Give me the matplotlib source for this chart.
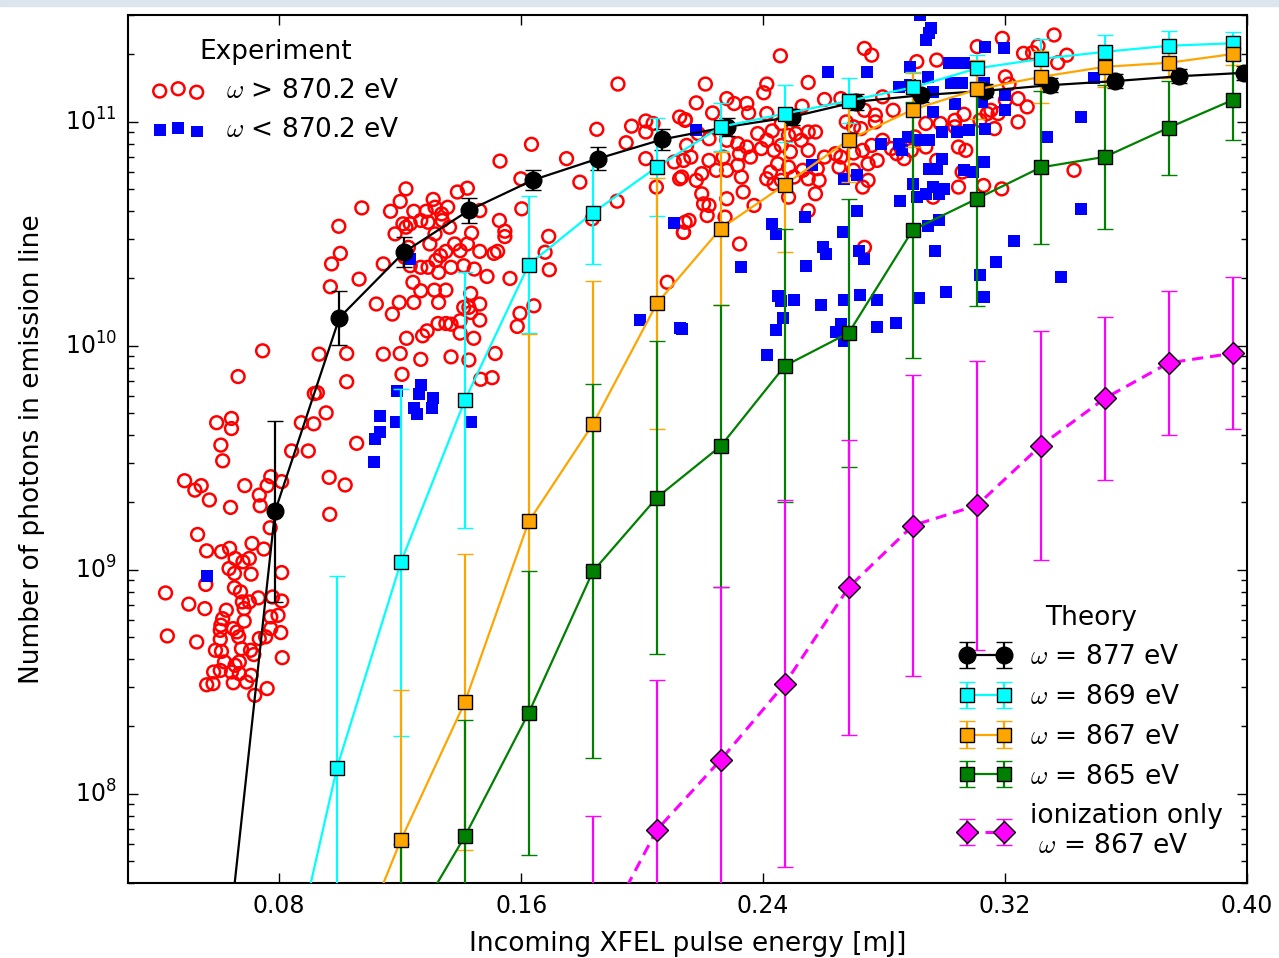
import matplotlib
matplotlib.use('Agg')
import matplotlib.pyplot as plt
import numpy as np
from matplotlib.patches import Rectangle

plt.style.use('classic')
plt.rcParams['font.family'] = ['DejaVu Sans']
plt.rcParams['mathtext.fontset'] = 'cm'

# ---- experiment: pulse energy [mJ], log10(photons) ----
hi_x = [0.0607, 0.0613, 0.0487, 0.0521, 0.0542, 0.0569, 0.0639, 0.0686, 0.0734, 0.0760,
        0.0772, 0.0808, 0.0737, 0.0530, 0.0560, 0.0609, 0.0636, 0.0654, 0.0680, 0.0701,
        0.0710, 0.0749, 0.0770, 0.0707, 0.0634, 0.0652, 0.0808, 0.0424, 0.0501, 0.0554,
        0.0557, 0.0652, 0.0672, 0.0678, 0.0684, 0.0701, 0.0731, 0.0778, 0.0808, 0.0625,
        0.0613, 0.0607, 0.0605, 0.0648, 0.0684, 0.0660, 0.0772, 0.0796, 0.0430, 0.0527,
        0.0605, 0.0666, 0.0734, 0.0755, 0.0772, 0.0805, 0.0589, 0.0609, 0.0675, 0.0705,
        0.0716, 0.0810, 0.0619, 0.0654, 0.0668, 0.0583, 0.0605, 0.0642, 0.0668, 0.0707,
        0.0560, 0.0581, 0.0648, 0.0692, 0.0719, 0.0760, 0.0841, 0.0896, 0.0965, 0.1018,
        0.0967, 0.1056,
        0.1920, 0.1850, 0.1965, 0.2012, 0.2036, 0.2012, 0.1947, 0.2124, 0.2142, 0.1634,
        0.1530, 0.1750, 0.1794, 0.2012, 0.2047, 0.2106, 0.2124, 0.1917, 0.2142, 0.2136,
        0.1599, 0.1602, 0.1691, 0.1679, 0.1693, 0.1642, 0.1596, 0.1587, 0.1835, 0.2083,
        0.1219, 0.1200, 0.1168, 0.1073, 0.0997, 0.1002, 0.0973, 0.0969, 0.1064, 0.1183,
        0.1209, 0.1233, 0.1245, 0.1286, 0.1309, 0.1315, 0.1337, 0.1357, 0.1389, 0.1422,
        0.1463, 0.1436, 0.1528, 0.1546, 0.1546, 0.1510, 0.1522, 0.1463, 0.1422, 0.1398,
        0.1380, 0.1351, 0.1333, 0.1318, 0.1298, 0.1315, 0.1363, 0.1339, 0.1292, 0.1268,
        0.1219, 0.1227, 0.1215, 0.1233, 0.1268, 0.1292, 0.1327, 0.1368, 0.1410, 0.1445,
        0.1487, 0.1563, 0.1242, 0.1268, 0.1313, 0.1351, 0.1433, 0.1427, 0.1463, 0.1433,
        0.1410, 0.1463, 0.1398, 0.1327, 0.1245, 0.1197, 0.1121, 0.1174, 0.1325, 0.1351,
        0.1368, 0.1398, 0.1443, 0.1221, 0.1274, 0.1289, 0.0932, 0.1023, 0.1144, 0.1200,
        0.1268, 0.1368, 0.1427, 0.1514, 0.1206, 0.1023, 0.1466, 0.1504, 0.0745, 0.0664,
        0.0916, 0.0926, 0.0955, 0.0873, 0.0914, 0.0593, 0.0642, 0.0642, 0.1144,
        0.2457, 0.2735, 0.2759, 0.2209, 0.2412, 0.2402, 0.2549, 0.3191, 0.3108, 0.3261,
        0.3291, 0.3362, 0.3404, 0.3374, 0.3309, 0.2974, 0.2908, 0.2280, 0.2304, 0.2346,
        0.2179, 0.2233, 0.2143, 0.2352, 0.2412, 0.2529, 0.2603, 0.2657, 0.2795, 0.2830,
        0.2735, 0.2771, 0.2460, 0.2430, 0.2382, 0.2412, 0.2484, 0.2508, 0.2549, 0.2573,
        0.2526, 0.2394, 0.2346, 0.2316, 0.2280, 0.2221, 0.2185, 0.2147, 0.2137, 0.2161,
        0.2221, 0.2268, 0.2322, 0.2358, 0.2436, 0.2460, 0.2490, 0.2549, 0.2603, 0.2639,
        0.2699, 0.2729, 0.2759, 0.2795, 0.2824, 0.2854, 0.2902, 0.2938, 0.2986, 0.3046,
        0.3070, 0.3034, 0.3165, 0.3177, 0.3153, 0.3201, 0.3243, 0.3243, 0.3273, 0.3213,
        0.3201, 0.3141, 0.3117, 0.3064, 0.3034, 0.2771, 0.2723, 0.2699, 0.2675, 0.2657,
        0.2651, 0.2699, 0.2747, 0.2777, 0.2729, 0.2747, 0.2579, 0.2585, 0.2549, 0.2531,
        0.2484, 0.2448, 0.2424, 0.2412, 0.2436, 0.2460, 0.2502, 0.2316, 0.2328, 0.2280,
        0.2245, 0.2197, 0.2179, 0.2131, 0.2197, 0.2221, 0.2280, 0.2334, 0.2370, 0.2484,
        0.2549, 0.2573, 0.2842, 0.2866, 0.2890, 0.2938, 0.2974, 0.3046, 0.3129, 0.3189,
        0.3428, 0.2735, 0.2322, 0.2274, 0.2155, 0.2137, 0.2203, 0.2215, 0.2962, 0.3058]
hi_log = [9.557, 9.487, 9.398, 9.356, 9.376, 9.312, 9.279, 9.376, 9.334, 9.376,
          9.416, 9.394, 9.286, 9.158, 9.085, 9.081, 9.096, 9.051, 9.036, 9.051,
          9.118, 9.093, 9.188, 8.981, 9.006, 8.984, 8.988, 8.897, 8.847, 8.827,
          8.935, 8.920, 8.902, 8.857, 8.827, 8.857, 8.875, 8.879, 8.861, 8.820,
          8.782, 8.753, 8.730, 8.738, 8.771, 8.723, 8.790, 8.797, 8.705, 8.678,
          8.690, 8.701, 8.693, 8.701, 8.738, 8.720, 8.641, 8.636, 8.648, 8.641,
          8.622, 8.608, 8.589, 8.574, 8.589, 8.544, 8.551, 8.544, 8.537, 8.529,
          8.487, 8.492, 8.496, 8.499, 8.440, 8.470, 9.531, 9.531, 9.413, 9.379,
          9.248, 9.565,
          11.169, 10.967, 10.981, 11.004, 10.993, 10.955, 10.907, 11.022, 11.007, 10.900,
          10.825, 10.836, 10.731, 10.836, 10.709, 10.821, 10.746, 10.646, 10.552, 10.507,
          10.746, 10.612, 10.489, 10.418, 10.340, 10.179, 10.145, 10.087, 10.567, 10.284,
          10.701, 10.645, 10.601, 10.616, 10.534, 10.413, 10.366, 10.264, 10.298, 10.500,
          10.545, 10.545, 10.601, 10.601, 10.654, 10.619, 10.589, 10.619, 10.687, 10.704,
          10.604, 10.504, 10.560, 10.512, 10.488, 10.413, 10.422, 10.422, 10.455, 10.425,
          10.455, 10.422, 10.403, 10.381, 10.455, 10.500, 10.530, 10.560, 10.552, 10.560,
          10.530, 10.440, 10.396, 10.358, 10.351, 10.351, 10.328, 10.351, 10.358, 10.343,
          10.310, 10.301, 10.284, 10.246, 10.249, 10.249, 10.234, 10.172, 10.187, 10.149,
          10.172, 10.115, 10.112, 10.194, 10.194, 10.194, 10.187, 10.142, 10.100, 10.100,
          10.097, 10.057, 10.034, 10.034, 10.045, 10.067, 9.963, 9.966, 9.963, 9.966,
          9.940, 9.951, 9.937, 9.966, 9.873, 9.840, 9.851, 9.858, 9.978, 9.863,
          9.787, 9.791, 9.701, 9.657, 9.652, 9.657, 9.676, 9.631, 10.366,
          11.295, 11.328, 11.298, 11.169, 11.169, 11.130, 11.176, 11.373, 11.336, 11.306,
          11.309, 11.388, 11.298, 11.264, 11.339, 11.276, 11.269, 11.104, 11.082, 11.082,
          11.085, 11.040, 11.010, 11.040, 11.037, 11.070, 11.100, 11.104, 11.112, 11.052,
          11.052, 11.030, 10.993, 10.960, 10.948, 10.918, 10.940, 10.948, 10.955, 10.955,
          10.918, 10.881, 10.888, 10.903, 10.918, 10.925, 10.948, 10.895, 10.828, 10.843,
          10.828, 10.843, 10.858, 10.843, 10.873, 10.895, 10.866, 10.873, 10.843, 10.858,
          10.861, 10.873, 10.895, 10.918, 10.881, 10.888, 10.933, 10.993, 10.993, 10.888,
          10.873, 10.978, 10.970, 11.037, 11.052, 11.097, 11.104, 11.000, 11.067, 11.169,
          11.201, 11.037, 11.007, 11.034, 11.007, 11.000, 10.970, 10.978, 11.000, 10.843,
          10.798, 10.784, 10.813, 10.828, 10.709, 10.739, 10.791, 10.739, 10.746, 10.784,
          10.798, 10.813, 10.776, 10.746, 10.724, 10.739, 10.754, 10.806, 10.754, 10.784,
          10.784, 10.769, 10.739, 10.754, 10.679, 10.627, 10.657, 10.687, 10.627, 10.664,
          10.604, 10.679, 10.858, 10.836, 10.873, 10.888, 10.828, 10.709, 10.716, 10.701,
          10.784, 10.440, 10.455, 10.575, 10.560, 10.507, 10.634, 10.582, 10.664, 10.776]

lo_x = [0.0562, 0.1112, 0.1117, 0.1132, 0.1233, 0.2106, 0.1994, 0.2124, 0.1188, 0.1132,
        0.1185, 0.1268, 0.1262, 0.1245, 0.1256, 0.1309, 0.1306, 0.1433,
        0.2179, 0.2615, 0.2744, 0.2561, 0.2789, 0.2711, 0.2669, 0.2848, 0.2878, 0.2860,
        0.2914, 0.2950, 0.2962, 0.2992, 0.3040, 0.3081, 0.3135, 0.3123, 0.3129, 0.3201,
        0.3201, 0.3022, 0.3058, 0.3034, 0.3016, 0.3046, 0.3064, 0.3135, 0.3195, 0.2884,
        0.2884, 0.2848, 0.2944, 0.2962, 0.2938, 0.2950, 0.2956, 0.2920, 0.2992, 0.2974,
        0.2950, 0.2896, 0.2962, 0.2980, 0.2998, 0.2938, 0.2908, 0.2854, 0.3129, 0.3064,
        0.3093, 0.3339, 0.3452, 0.3494, 0.3450, 0.2711, 0.2537, 0.2430, 0.2442, 0.2663,
        0.2597, 0.2609, 0.2717, 0.2735, 0.2968, 0.2980, 0.2944, 0.2328, 0.2543, 0.2448,
        0.2460, 0.2502, 0.2591, 0.2669, 0.2719, 0.2777, 0.2914, 0.3004, 0.2466, 0.2442,
        0.2412, 0.2657, 0.2777, 0.2839, 0.2669, 0.2131, 0.3117, 0.3129, 0.3171, 0.3231,
        0.3386, 0.2640]
lo_log = [8.972, 9.483, 9.584, 9.617, 10.388, 10.548, 10.115, 10.079, 9.798, 9.689,
          9.661, 9.825, 9.784, 9.724, 9.694, 9.769, 9.724, 9.661,
          10.963, 11.224, 11.224, 10.806, 10.903, 10.761, 10.746, 10.903, 10.933, 10.873,
          10.918, 10.918, 11.045, 10.955, 10.955, 10.963, 10.970, 11.090, 11.172, 11.119,
          11.052, 11.172, 11.172, 11.082, 11.261, 11.261, 11.261, 11.336, 11.328, 11.246,
          11.164, 11.157, 11.201, 11.134, 11.366, 11.395, 11.418, 11.478, 10.836, 10.791,
          10.791, 10.724, 10.709, 10.679, 10.701, 10.679, 10.664, 10.649, 10.821, 10.784,
          10.776, 10.933, 11.022, 11.194, 10.612, 10.604, 10.575, 10.545, 10.500, 10.507,
          10.440, 10.410, 10.425, 10.388, 10.425, 10.560, 10.537, 10.351, 10.358, 10.224,
          10.201, 10.204, 10.182, 10.204, 10.227, 10.204, 10.216, 10.239, 10.124, 10.070,
          9.960, 10.097, 10.085, 10.100, 10.022, 10.075, 10.318, 10.219, 10.373, 10.470,
          10.306, 10.064]

# ---- theory: pulse energy [mJ], log10(photons), error half-width [decades] ----
x_877 = [0.0573, 0.0786, 0.0999, 0.1213, 0.1427, 0.1640, 0.1854, 0.2067, 0.2281,
         0.2494, 0.2708, 0.2921, 0.3135, 0.3349, 0.3562, 0.3776, 0.3989]
log_877 = [6.61, 9.261, 10.126, 10.419, 10.605, 10.741, 10.836, 10.922, 10.978,
           11.022, 11.090, 11.119, 11.139, 11.164, 11.182, 11.204, 11.219]
err_877 = [0.4, 0.405, 0.12, 0.067, 0.057, 0.045, 0.05, 0.047, 0.04,
           0.035, 0.035, 0.03, 0.03, 0.03, 0.03, 0.03, 0.03]

x_th = [0.0779, 0.0991, 0.1202, 0.1414, 0.1625, 0.1837, 0.2049, 0.2260,
        0.2472, 0.2683, 0.2895, 0.3107, 0.3318, 0.3530, 0.3741, 0.3953]
log_869 = [6.856, 8.117, 9.033, 9.758, 10.363, 10.594, 10.799, 10.978,
           11.037, 11.094, 11.154, 11.239, 11.281, 11.313, 11.340, 11.351]
err_869 = [0.6, 0.854, 0.775, 0.57, 0.305, 0.227, 0.22, 0.106,
           0.127, 0.10, 0.07, 0.06, 0.088, 0.075, 0.067, 0.05]
log_867 = [7.09, 7.793, 8.410, 9.216, 9.650, 10.190, 10.524, 10.720,
           10.920, 11.055, 11.145, 11.201, 11.246, 11.264, 11.303]
err_867 = [0.45, 0.67, 0.66, 0.836, 0.638, 0.56, 0.343, 0.30,
           0.19, 0.165, 0.13, 0.116, 0.09, 0.07, 0.05]
log_865 = [7.325, 7.811, 8.362, 8.993, 9.323, 9.553, 9.911, 10.058,
           10.518, 10.657, 10.797, 10.844, 10.974, 11.098]
err_865 = [0.45, 0.52, 0.635, 0.835, 0.70, 0.63, 0.61, 0.60,
           0.57, 0.48, 0.34, 0.32, 0.21, 0.18]
log_ion = [7.30, 7.840, 8.152, 8.492, 8.922, 9.198, 9.288, 9.555, 9.766, 9.924, 9.967]
err_ion = [0.6, 0.67, 0.77, 0.82, 0.66, 0.67, 0.645, 0.51, 0.365, 0.322, 0.34]

fig = plt.figure(figsize=(12.79, 9.58), dpi=100, facecolor='white')
fig.add_artist(Rectangle((0, 1 - 6 / 958), 1, 6 / 958, transform=fig.transFigure,
                         color='#dce4ee', zorder=0))
ax = fig.add_axes([0.1001, 0.0783, 0.8749, 0.906])
ax.set_facecolor('white')

exp_hi = ax.scatter(hi_x, 10 ** np.array(hi_log), s=85, facecolors='none',
                    edgecolors='red', linewidths=1.8, zorder=2)
exp_lo = ax.scatter(lo_x, 10 ** np.array(lo_log), s=72, marker='s', color='blue',
                    linewidths=0, zorder=2)


def theory(x, lg, dex, color, marker, ms, label, ls='-', lw=1.6):
    y = 10 ** np.array(lg)
    d = np.array(dex)
    yerr = [y - y / 10 ** d, y * 10 ** d - y]
    h = ax.errorbar(x, y, yerr=yerr, color=color, ecolor=color, marker=marker, ms=ms,
                    mfc=color, mec='k', mew=1, lw=lw, ls=ls, capsize=6,
                    capthick=1.5, elinewidth=1.6, label=label, zorder=3)
    if ls == '--':
        h[0].set_dashes((8, 5))
    return h


h1 = theory(x_877, log_877, err_877, 'black', 'o', 12, r'$\omega$ = 877 eV')
h2 = theory(x_th, log_869, err_869, 'cyan', 's', 10.5, r'$\omega$ = 869 eV')
h3 = theory(x_th[1:], log_867, err_867, 'orange', 's', 10.5, r'$\omega$ = 867 eV')
h4 = theory(x_th[2:], log_865, err_865, 'green', 's', 10.5, r'$\omega$ = 865 eV')
h5 = theory(x_th[5:], log_ion, err_ion, 'magenta', 'D', 11,
            'ionization only\n ' + r'$\omega$ = 867 eV', ls='--', lw=2.2)

ax.set_yscale('log')
ax.set_xlim(0.03, 0.40)
ax.set_ylim(4e7, 3e11)
ax.set_xticks([0.08, 0.16, 0.24, 0.32, 0.40])
ax.xaxis.set_major_formatter(matplotlib.ticker.FormatStrFormatter('%.2f'))
ax.tick_params(which='both', direction='in', top=True, right=True, labelsize=17)
ax.tick_params(which='major', length=7, width=1, pad=8)
ax.tick_params(which='minor', length=4, width=1)
for sp in ax.spines.values():
    sp.set_linewidth(1.5)

ax.set_xlabel('Incoming XFEL pulse energy [mJ]', fontsize=19, labelpad=9)
ax.set_ylabel('Number of photons in emission line', fontsize=19, labelpad=14)

leg1 = ax.legend([exp_hi, exp_lo], [r'$\omega$ > 870.2 eV', r'$\omega$ < 870.2 eV'],
                 loc='upper left', title='Experiment', frameon=False, scatterpoints=3,
                 fontsize=19, title_fontsize=19, handlelength=2.0, handletextpad=0.8,
                 labelspacing=0.5)
ax.add_artist(leg1)
ax.legend([h1, h2, h3, h4, h5],
          [h.get_label() for h in (h1, h2, h3, h4, h5)],
          loc='lower right', title='Theory', frameon=False, numpoints=2,
          fontsize=19, title_fontsize=19, handlelength=2.0, handletextpad=0.7,
          labelspacing=0.52)

fig.savefig('out.png', dpi=100, facecolor='white')
